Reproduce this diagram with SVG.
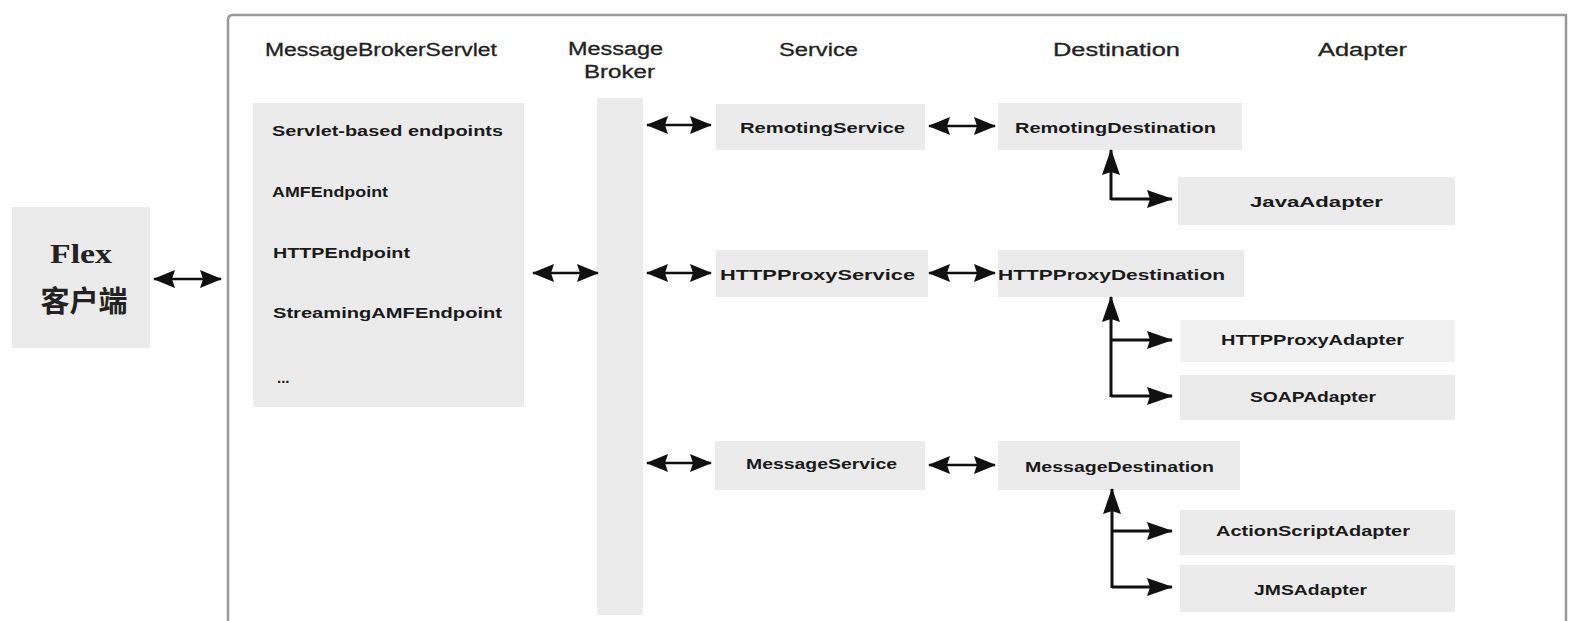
<svg xmlns="http://www.w3.org/2000/svg" width="1573" height="621" viewBox="0 0 1573 621">
<style>
.bg{fill:#ebebeb}
.hd{font-family:"Liberation Sans",Arial,sans-serif;font-size:18px;fill:#222;text-anchor:start;stroke:#222;stroke-width:0.3}
.lb{font-family:"Liberation Sans",Arial,sans-serif;font-size:15px;font-weight:bold;fill:#1a1a1a}
.ln{stroke:#111;stroke-width:2.5;fill:none}
.tr{stroke:#111;stroke-width:3;fill:none}
</style>
<defs>
<marker id="ah" viewBox="0 0 22 18" refX="21" refY="9" markerWidth="22" markerHeight="18" markerUnits="userSpaceOnUse" orient="auto-start-reverse">
<path d="M0,0 L22,9 L0,18 L3,9 Z" fill="#111"/>
</marker>
<marker id="ah2" viewBox="0 0 26 18" refX="25" refY="9" markerWidth="26" markerHeight="18" markerUnits="userSpaceOnUse" orient="auto-start-reverse">
<path d="M0,0 L26,9 L0,18 L3,9 Z" fill="#111"/>
</marker>
</defs>
<rect width="1573" height="621" fill="#fff"/>
<path d="M228,630 L228,20 Q228,15 233,15 L1566,15 L1566,630" fill="none" stroke="#999" stroke-width="2.5"/>

<g id="flex-client">
<rect class="bg" x="12" y="207" width="138" height="141"/>
<text x="50" y="263" font-family="Liberation Serif,serif" font-size="28" font-weight="bold" textLength="62" lengthAdjust="spacingAndGlyphs" fill="#222">Flex</text>
<text x="84" y="312" font-family="Noto Sans CJK SC,sans-serif" font-size="29" font-weight="bold" text-anchor="middle" fill="#222">客户端</text>
</g>

<g id="headers">
<text class="hd" x="265" y="56" textLength="232" lengthAdjust="spacingAndGlyphs">MessageBrokerServlet</text>
<text class="hd" x="568" y="55" textLength="95" lengthAdjust="spacingAndGlyphs">Message</text>
<text class="hd" x="584" y="78" textLength="71" lengthAdjust="spacingAndGlyphs">Broker</text>
<text class="hd" x="779" y="56" textLength="79" lengthAdjust="spacingAndGlyphs">Service</text>
<text class="hd" x="1053" y="56" textLength="127" lengthAdjust="spacingAndGlyphs">Destination</text>
<text class="hd" x="1318" y="56" textLength="89" lengthAdjust="spacingAndGlyphs">Adapter</text>
</g>

<g id="servlet">
<rect class="bg" x="253" y="103" width="271" height="304"/>
<text class="lb" x="272" y="136" textLength="231" lengthAdjust="spacingAndGlyphs">Servlet-based endpoints</text>
<text class="lb" x="272" y="197" textLength="116" lengthAdjust="spacingAndGlyphs">AMFEndpoint</text>
<text class="lb" x="273" y="258" textLength="137" lengthAdjust="spacingAndGlyphs">HTTPEndpoint</text>
<text class="lb" x="273" y="318" textLength="229" lengthAdjust="spacingAndGlyphs">StreamingAMFEndpoint</text>
<text class="lb" x="277" y="383">...</text>
</g>

<g id="message-broker">
<rect class="bg" x="597" y="98" width="46" height="517"/>
</g>

<g id="remoting-service">
<rect class="bg" x="716" y="104" width="209" height="46"/>
<text class="lb" x="740" y="133" textLength="165" lengthAdjust="spacingAndGlyphs">RemotingService</text>
</g>
<g id="httpproxy-service">
<rect class="bg" x="716" y="250" width="212" height="47"/>
<text class="lb" x="720" y="280" textLength="195" lengthAdjust="spacingAndGlyphs">HTTPProxyService</text>
</g>
<g id="message-service">
<rect class="bg" x="715" y="441" width="210" height="49"/>
<text class="lb" x="746" y="469" textLength="151" lengthAdjust="spacingAndGlyphs">MessageService</text>
</g>

<g id="remoting-destination">
<rect class="bg" x="998" y="103" width="244" height="47"/>
<text class="lb" x="1015" y="133" textLength="201" lengthAdjust="spacingAndGlyphs">RemotingDestination</text>
</g>
<g id="httpproxy-destination">
<rect class="bg" x="998" y="250" width="246" height="47"/>
<text class="lb" x="998" y="280" textLength="227" lengthAdjust="spacingAndGlyphs">HTTPProxyDestination</text>
</g>
<g id="message-destination">
<rect class="bg" x="998" y="441" width="242" height="49"/>
<text class="lb" x="1025" y="472" textLength="189" lengthAdjust="spacingAndGlyphs">MessageDestination</text>
</g>

<g id="java-adapter">
<rect class="bg" x="1178" y="177" width="277" height="48"/>
<text class="lb" x="1250" y="207" textLength="133" lengthAdjust="spacingAndGlyphs">JavaAdapter</text>
</g>
<g id="httpproxy-adapter">
<rect class="bg" x="1180" y="320" width="275" height="42" opacity="0.7"/>
<text class="lb" x="1221" y="345" textLength="183" lengthAdjust="spacingAndGlyphs">HTTPProxyAdapter</text>
</g>
<g id="soap-adapter">
<rect class="bg" x="1180" y="375" width="275" height="45"/>
<text class="lb" x="1250" y="402" textLength="126" lengthAdjust="spacingAndGlyphs">SOAPAdapter</text>
</g>
<g id="actionscript-adapter">
<rect class="bg" x="1180" y="510" width="275" height="45"/>
<text class="lb" x="1216" y="536" textLength="194" lengthAdjust="spacingAndGlyphs">ActionScriptAdapter</text>
</g>
<g id="jms-adapter">
<rect class="bg" x="1180" y="565" width="275" height="47"/>
<text class="lb" x="1254" y="595" textLength="113" lengthAdjust="spacingAndGlyphs">JMSAdapter</text>
</g>

<g id="connectors">
<line class="ln" x1="154" y1="279" x2="221" y2="279" marker-start="url(#ah)" marker-end="url(#ah)"/>
<line class="ln" x1="533" y1="273" x2="598" y2="273" marker-start="url(#ah)" marker-end="url(#ah)"/>
<line class="ln" x1="647" y1="125" x2="711" y2="125" marker-start="url(#ah)" marker-end="url(#ah)"/>
<line class="ln" x1="647" y1="273" x2="711" y2="273" marker-start="url(#ah)" marker-end="url(#ah)"/>
<line class="ln" x1="647" y1="463" x2="711" y2="463" marker-start="url(#ah)" marker-end="url(#ah)"/>
<line class="ln" x1="929" y1="126" x2="995" y2="126" marker-start="url(#ah)" marker-end="url(#ah)"/>
<line class="ln" x1="929" y1="273" x2="995" y2="273" marker-start="url(#ah)" marker-end="url(#ah)"/>
<line class="ln" x1="929" y1="465" x2="995" y2="465" marker-start="url(#ah)" marker-end="url(#ah)"/>

<path class="tr" d="M1111,200 L1111,150" marker-end="url(#ah2)"/>
<path class="tr" d="M1111,199 L1172,199" marker-end="url(#ah2)"/>

<path class="tr" d="M1111,397 L1111,297" marker-end="url(#ah2)"/>
<path class="tr" d="M1111,340 L1172,340" marker-end="url(#ah2)"/>
<path class="tr" d="M1111,396 L1172,396" marker-end="url(#ah2)"/>

<path class="tr" d="M1112,588 L1112,489" marker-end="url(#ah2)"/>
<path class="tr" d="M1112,531 L1172,531" marker-end="url(#ah2)"/>
<path class="tr" d="M1112,587 L1172,587" marker-end="url(#ah2)"/>
</g>
</svg>
